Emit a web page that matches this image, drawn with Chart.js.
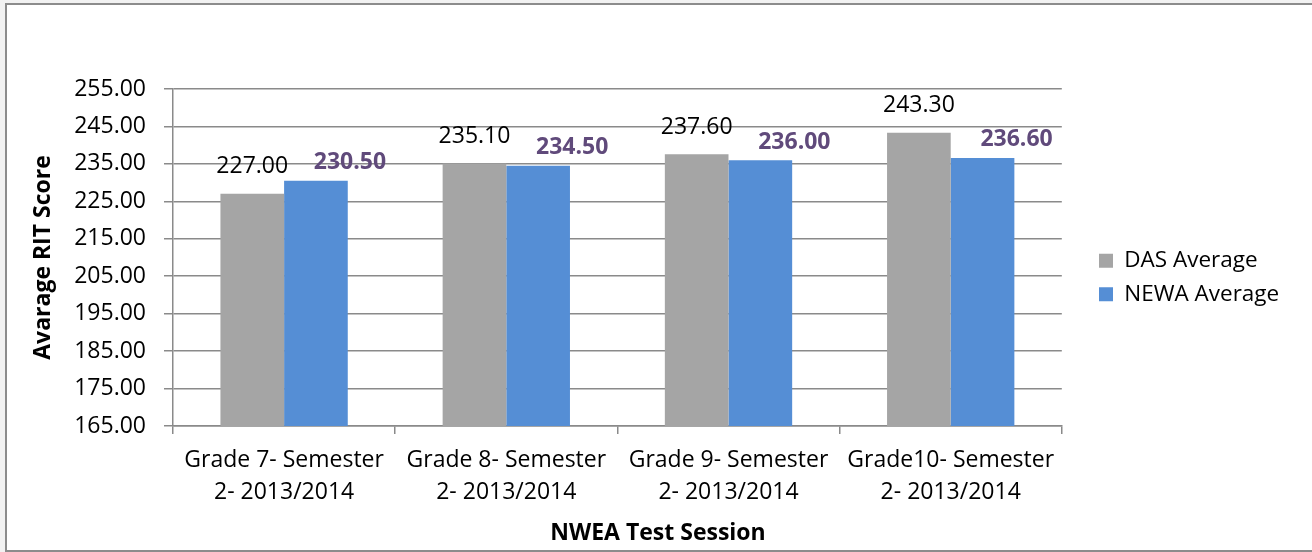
<!DOCTYPE html>
<html>
<head>
<meta charset="utf-8">
<script src="https://cdn.jsdelivr.net/npm/chart.js@4.4.1/dist/chart.umd.min.js"></script>
<style>
  html, body { margin: 0; padding: 0; background: #f2f2f2; }
  #frame { position: absolute; left: 5px; top: 3px; width: 1320px; height: 545px; background: #fff; border: 2px solid #8c8c8c; }
  #wrap { position: absolute; left: 0; top: 0; width: 1312px; height: 552px; }
</style>
</head>
<body>
<div id="frame"></div>
<div id="wrap"><canvas id="ritChart" width="1312" height="552"></canvas></div>
<script>
// chart data
var sessions = [
  ['Grade 7- Semester', '2- 2013/2014'],
  ['Grade 8- Semester', '2- 2013/2014'],
  ['Grade 9- Semester', '2- 2013/2014'],
  ['Grade10- Semester', '2- 2013/2014']
]
var dasAvg = [227.0, 235.1, 237.6, 243.3]
var newaAvg = [230.5, 234.5, 236.0, 236.6]
var seriesNames = ['DAS Average', 'NEWA Average']
var xTitle = 'NWEA Test Session'
var yTitle = 'Avarage RIT Score'
var yMin = 165
var yMax = 255
var yStep = 10

var FONT = "'Open Sans', sans-serif"
var gridColor = '#8a8a8a'

// value labels above the bars + x title centred on the whole frame
const valueLabels = {
  id: 'valueLabels',
  afterDatasetsDraw(chart) {
    const ctx = chart.ctx
    ctx.save()
    ctx.textAlign = 'center'
    ctx.textBaseline = 'middle'
    chart.data.datasets.forEach((ds, i) => {
      chart.getDatasetMeta(i).data.forEach((bar, j) => {
        const txt = ds.data[j].toFixed(2)
        if (i == 0) {
          ctx.font = '23px ' + FONT
          ctx.fillStyle = '#000'
          ctx.fillText(txt, bar.x, bar.y - 27)
        } else {
          ctx.font = 'bold 23px ' + FONT
          ctx.fillStyle = '#604a7b'
          ctx.fillText(txt, bar.x + 34, bar.y - 18)
        }
      })
    })
    ctx.font = 'bold 23px ' + FONT
    ctx.fillStyle = '#000'
    ctx.fillText(xTitle, chart.width / 2 + 2, 533)
    ctx.restore()
  }
}

// move the legend next to the plot like the original
const legendShift = {
  id: 'legendShift',
  afterLayout(chart) {
    const l = chart.legend
    const dx = 1099 - (l.left + 11)
    l.left += dx
    l.right += dx
    l.top += 20
    l.bottom += 20
  }
}

const ctx = document.getElementById('ritChart').getContext('2d')
const myChart = new Chart(ctx, {
  type: 'bar',
  data: {
    labels: sessions,
    datasets: [
      {
        label: seriesNames[0],
        data: dasAvg,
        backgroundColor: '#a5a5a5',
        categoryPercentage: 0.573,
        barPercentage: 1.0,
      },
      {
        label: seriesNames[1],
        data: newaAvg,
        backgroundColor: '#558ed5',
        categoryPercentage: 0.573,
        barPercentage: 1.0,
      },
    ],
  },
  options: {
    responsive: false,
    animation: false,
    events: [],
    layout: {
      padding: { left: 28, top: 89, right: 49, bottom: 0 },
    },
    plugins: {
      tooltip: { enabled: false },
      legend: {
        position: 'right',
        fullSize: false,
        labels: {
          boxWidth: 14,
          boxHeight: 14,
          padding: 11,
          color: '#000',
          font: { family: FONT, size: 22.5 },
        },
      },
    },
    scales: {
      x: {
        afterFit: (scale) => { scale.height = 552 - 426 },
        grid: {
          drawOnChartArea: false,
          tickLength: 8,
          color: gridColor,
          lineWidth: 1.5,
        },
        border: { color: gridColor, width: 1.5 },
        ticks: {
          color: '#000',
          padding: 10,
          maxRotation: 0,
          font: { family: FONT, size: 23, lineHeight: 1.4 },
        },
      },
      y: {
        min: yMin,
        max: yMax,
        afterFit: (scale) => { scale.width = 173 - 28 },
        grid: {
          color: gridColor,
          lineWidth: 1.5,
          tickLength: 9,
        },
        border: { color: gridColor, width: 1.5 },
        ticks: {
          stepSize: yStep,
          color: '#000',
          padding: 18,
          font: { family: FONT, size: 23 },
          callback: (v) => v.toFixed(2),
        },
        title: {
          display: true,
          text: yTitle,
          color: '#000',
          font: { family: FONT, size: 23, weight: 'bold' },
          padding: 2,
        },
      },
    },
  },
  plugins: [valueLabels, legendShift],
})
</script>
</body>
</html>
